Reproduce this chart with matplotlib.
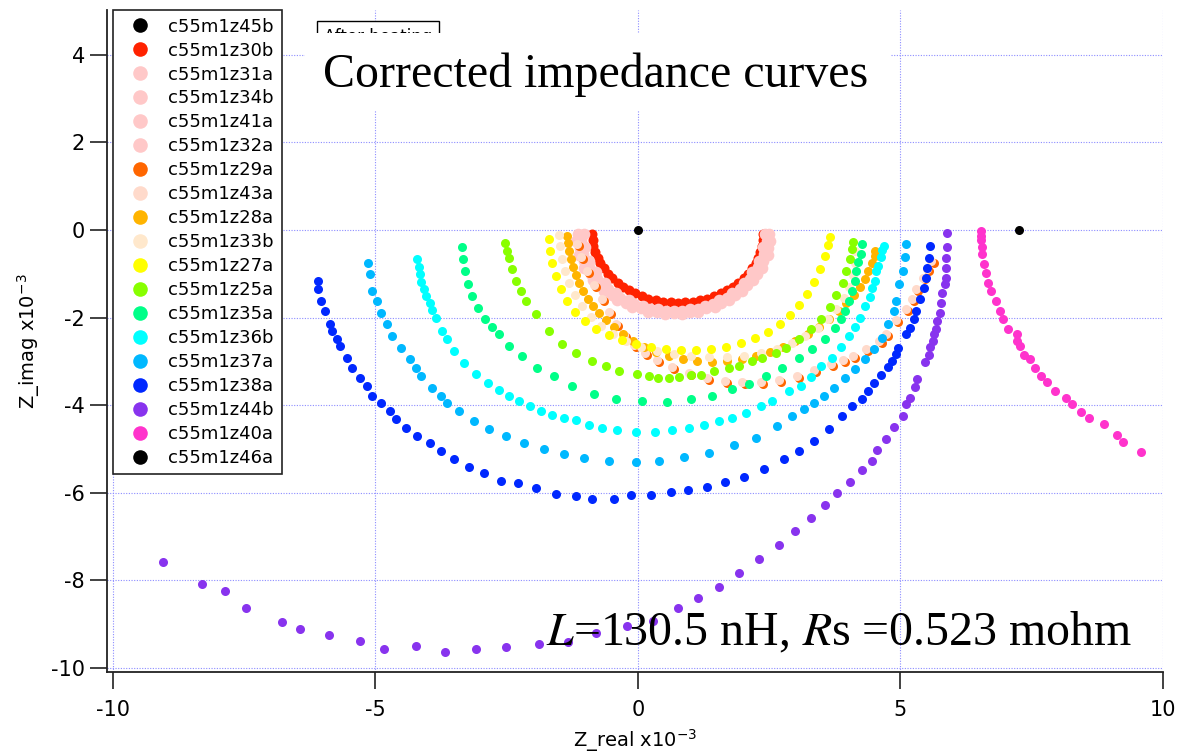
import matplotlib
matplotlib.use("Agg")
import matplotlib.pyplot as plt
from matplotlib.lines import Line2D
from matplotlib.patches import Rectangle

plt.rcParams["axes.unicode_minus"] = False
plt.rcParams["font.family"] = ["DejaVu Sans"]

# ---- impedance curves, Z_real / Z_imag in units of 1e-3 ----
z45b_x = [0.0]
z45b_y = [0.0]

z30b_x = [-0.87, -0.86, -0.85, -0.81, -0.77, -0.72, -0.65, -0.57, -0.49, -0.39, -0.29, -0.18, -0.06,
          0.07, 0.20, 0.34, 0.48, 0.62, 0.76, 0.90, 1.04, 1.18, 1.32, 1.45, 1.58, 1.70, 1.81, 1.91,
          2.01, 2.09, 2.17, 2.24, 2.29, 2.33, 2.37, 2.38, 2.39]
z30b_y = [-0.10, -0.24, -0.37, -0.50, -0.63, -0.76, -0.88, -1.00, -1.10, -1.20, -1.30, -1.38, -1.45,
          -1.51, -1.57, -1.61, -1.64, -1.65, -1.66, -1.65, -1.64, -1.61, -1.57, -1.51, -1.45, -1.38,
          -1.30, -1.20, -1.10, -1.00, -0.88, -0.76, -0.63, -0.50, -0.37, -0.24, -0.10]

z31a_x = [-1.03, -1.00, -0.93, -0.80, -0.63, -0.42, -0.17, 0.10, 0.39, 0.69, 0.99, 1.28, 1.55, 1.80,
          2.01, 2.18, 2.31, 2.38, 2.41]
z31a_y = [-0.10, -0.40, -0.70, -0.97, -1.22, -1.43, -1.61, -1.74, -1.81, -1.84, -1.81, -1.74, -1.61,
          -1.43, -1.22, -0.97, -0.70, -0.40, -0.10]

z34b_x = [-1.09, -1.04, -0.93, -0.78, -0.58, -0.34, -0.07, 0.22, 0.53, 0.84, 1.14, 1.43, 1.70, 1.94,
          2.14, 2.29, 2.40, 2.45]
z34b_y = [-0.25, -0.56, -0.85, -1.12, -1.35, -1.55, -1.70, -1.81, -1.86, -1.86, -1.81, -1.70, -1.55,
          -1.35, -1.12, -0.85, -0.56, -0.25]

z41a_x = [-1.14, -1.11, -1.03, -0.90, -0.71, -0.49, -0.23, 0.06, 0.36, 0.68, 1.00, 1.30, 1.59, 1.85,
          2.07, 2.26, 2.39, 2.47, 2.50]
z41a_y = [-0.10, -0.41, -0.72, -1.00, -1.26, -1.48, -1.66, -1.79, -1.87, -1.90, -1.87, -1.79, -1.66,
          -1.48, -1.26, -1.00, -0.72, -0.41, -0.10]

z32a_x = [-1.18, -1.13, -1.02, -0.85, -0.65, -0.40, -0.12, 0.19, 0.51, 0.83, 1.15, 1.46, 1.74, 1.99,
          2.19, 2.36, 2.47, 2.52]
z32a_y = [-0.26, -0.57, -0.87, -1.15, -1.39, -1.60, -1.76, -1.87, -1.92, -1.92, -1.87, -1.76, -1.60,
          -1.39, -1.15, -0.87, -0.57, -0.26]

z29a_x = [-1.12, -1.05, -0.93, -0.80, -0.65, -0.51, -0.38, -0.23, -0.04, 0.17, 0.40, 0.68, 1.01, 1.35,
          1.69, 2.03, 2.38, 2.72, 3.06, 3.40, 3.71, 3.94, 4.14, 4.39, 4.64, 4.77, 4.96, 5.15, 5.25,
          5.34, 5.46, 5.55, 5.63]
z29a_y = [-0.36, -0.66, -0.98, -1.30, -1.62, -1.92, -2.19, -2.44, -2.67, -2.85, -3.01, -3.17, -3.31,
          -3.42, -3.49, -3.52, -3.52, -3.47, -3.38, -3.24, -3.10, -3.01, -2.92, -2.76, -2.58, -2.42,
          -2.10, -1.85, -1.62, -1.39, -1.13, -0.93, -0.75]

z43a_x = [-1.16, -1.09, -0.97, -0.84, -0.69, -0.55, -0.42, -0.27, -0.08, 0.13, 0.36, 0.64, 0.97, 1.31,
          1.65, 1.99, 2.34, 2.68, 3.02, 3.36, 3.67, 3.90, 4.10, 4.35, 4.60, 4.73, 4.92, 5.11, 5.21,
          5.30, 5.42, 5.51, 5.59]
z43a_y = [-0.32, -0.62, -0.94, -1.26, -1.58, -1.88, -2.15, -2.40, -2.63, -2.81, -2.97, -3.13, -3.27,
          -3.38, -3.45, -3.48, -3.48, -3.43, -3.34, -3.20, -3.06, -2.97, -2.88, -2.72, -2.54, -2.38,
          -2.06, -1.81, -1.58, -1.35, -1.09, -0.89, -0.71]

z28a_x = [-1.35, -1.33, -1.31, -1.27, -1.24, -1.18, -1.12, -1.05, -0.95, -0.86, -0.74, -0.61, -0.46,
          -0.29, -0.10, 0.11, 0.34, 0.59, 0.86, 1.12, 1.41, 1.69, 1.98, 2.24, 2.51, 2.76, 3.00, 3.23,
          3.44, 3.63, 3.82, 3.97, 4.11, 4.22, 4.32, 4.39, 4.45, 4.51, 4.52]
z28a_y = [-0.13, -0.29, -0.47, -0.66, -0.84, -1.02, -1.20, -1.39, -1.57, -1.73, -1.89, -2.05, -2.21,
          -2.37, -2.53, -2.67, -2.78, -2.87, -2.94, -2.99, -3.01, -2.99, -2.94, -2.87, -2.78, -2.67,
          -2.53, -2.37, -2.21, -2.03, -1.85, -1.66, -1.48, -1.30, -1.11, -0.93, -0.75, -0.59, -0.47]

z33b_x = [-1.50, -1.48, -1.44, -1.39, -1.31, -1.20, -1.06, -0.89, -0.70, -0.48, -0.23, 0.06, 0.36,
          0.68, 1.01, 1.35, 1.69, 2.02, 2.34, 2.64, 2.93, 3.19, 3.42, 3.61, 3.78, 3.92, 4.01, 4.09,
          4.13, 4.14]
z33b_y = [-0.11, -0.36, -0.66, -0.93, -1.20, -1.48, -1.73, -1.98, -2.19, -2.37, -2.53, -2.67, -2.76,
          -2.83, -2.88, -2.90, -2.90, -2.88, -2.81, -2.72, -2.58, -2.42, -2.24, -2.03, -1.80, -1.55,
          -1.30, -1.02, -0.75, -0.47]

z27a_x = [-1.69, -1.67, -1.63, -1.56, -1.46, -1.35, -1.20, -1.01, -0.80, -0.55, -0.30, -0.04, 0.25,
          0.53, 0.82, 1.10, 1.39, 1.67, 1.96, 2.22, 2.47, 2.70, 2.89, 3.06, 3.21, 3.35, 3.46, 3.56,
          3.61, 3.65]
z27a_y = [-0.20, -0.47, -0.75, -1.04, -1.34, -1.62, -1.87, -2.08, -2.26, -2.39, -2.51, -2.60, -2.67,
          -2.71, -2.74, -2.74, -2.71, -2.67, -2.58, -2.46, -2.33, -2.14, -1.94, -1.71, -1.46, -1.19,
          -0.89, -0.59, -0.34, -0.15]

z25a_x = [-2.53, -2.49, -2.45, -2.40, -2.32, -2.22, -2.13, -1.94, -1.69, -1.44, -1.18, -0.87, -0.61,
          -0.36, -0.02, 0.21, 0.38, 0.59, 0.78, 1.01, 1.20, 1.44, 1.73, 1.92, 2.17, 2.36, 2.62, 2.81,
          3.06, 3.29, 3.48, 3.65, 3.78, 3.90, 3.97, 4.03, 4.07, 4.09]
z25a_y = [-0.29, -0.47, -0.63, -0.89, -1.16, -1.39, -1.62, -1.92, -2.31, -2.60, -2.81, -2.99, -3.10,
          -3.22, -3.29, -3.33, -3.38, -3.38, -3.36, -3.31, -3.31, -3.22, -3.15, -3.11, -2.99, -2.92,
          -2.81, -2.69, -2.49, -2.26, -2.03, -1.76, -1.48, -1.21, -0.93, -0.66, -0.43, -0.27]

z35a_x = [-3.35, -3.33, -3.29, -3.23, -3.16, -3.04, -2.91, -2.78, -2.64, -2.45, -2.21, -1.92, -1.60,
          -1.25, -0.84, -0.42, 0.08, 0.55, 1.01, 1.41, 1.79, 2.11, 2.43, 2.74, 3.06, 3.31, 3.57, 3.76,
          3.86, 3.95, 4.01, 4.07, 4.13, 4.16, 4.20, 4.24, 4.26]
z35a_y = [-0.40, -0.66, -0.93, -1.23, -1.50, -1.78, -2.03, -2.21, -2.37, -2.65, -2.88, -3.15, -3.33,
          -3.56, -3.74, -3.86, -3.90, -3.93, -3.86, -3.79, -3.63, -3.52, -3.34, -3.15, -2.92, -2.72,
          -2.49, -2.24, -2.03, -1.85, -1.62, -1.39, -1.16, -0.93, -0.73, -0.54, -0.31]

z36b_x = [-4.20, -4.18, -4.16, -4.13, -4.07, -4.03, -3.97, -3.92, -3.84, -3.73, -3.63, -3.50, -3.31,
          -3.08, -2.85, -2.64, -2.45, -2.26, -2.05, -1.84, -1.63, -1.41, -1.18, -0.93, -0.68, -0.40,
          -0.04, 0.32, 0.65, 0.97, 1.25, 1.54, 1.79, 2.05, 2.34, 2.55, 2.87, 3.10, 3.29, 3.48, 3.69,
          3.86, 4.01, 4.13, 4.22, 4.33, 4.41, 4.45, 4.51, 4.54, 4.58, 4.62, 4.64, 4.68]
z36b_y = [-0.66, -0.84, -1.00, -1.18, -1.34, -1.50, -1.66, -1.82, -2.00, -2.30, -2.49, -2.76, -3.03,
          -3.28, -3.49, -3.65, -3.79, -3.90, -4.01, -4.13, -4.22, -4.29, -4.33, -4.45, -4.52, -4.57,
          -4.61, -4.61, -4.57, -4.52, -4.45, -4.36, -4.29, -4.18, -4.02, -3.90, -3.68, -3.56, -3.36,
          -3.11, -2.92, -2.67, -2.42, -2.21, -2.00, -1.73, -1.53, -1.32, -1.16, -0.93, -0.82, -0.61,
          -0.45, -0.36]

z37a_x = [-5.15, -5.11, -5.06, -4.98, -4.89, -4.79, -4.68, -4.51, -4.35, -4.22, -4.13, -3.92, -3.75,
          -3.63, -3.40, -3.12, -2.83, -2.51, -2.17, -1.79, -1.41, -1.03, -0.55, -0.04, 0.40, 0.87,
          1.35, 1.83, 2.24, 2.64, 2.93, 3.16, 3.35, 3.54, 3.73, 3.95, 4.14, 4.33, 4.49, 4.64, 4.77,
          4.87, 4.92, 4.98, 5.04, 5.08, 5.11]
z37a_y = [-0.75, -1.00, -1.39, -1.62, -1.89, -2.14, -2.42, -2.69, -2.95, -3.16, -3.33, -3.61, -3.79,
          -3.95, -4.14, -4.36, -4.55, -4.71, -4.87, -5.01, -5.12, -5.21, -5.28, -5.30, -5.28, -5.19,
          -5.08, -4.92, -4.76, -4.48, -4.25, -4.09, -3.95, -3.79, -3.61, -3.38, -3.17, -2.94, -2.72,
          -2.46, -2.14, -1.85, -1.62, -1.23, -0.93, -0.61, -0.31]

z38a_x = [-6.10, -6.10, -6.03, -5.97, -5.87, -5.82, -5.74, -5.68, -5.55, -5.44, -5.30, -5.17, -5.06,
          -4.89, -4.73, -4.60, -4.41, -4.20, -3.97, -3.75, -3.50, -3.21, -2.93, -2.60, -2.28, -1.94,
          -1.56, -1.18, -0.87, -0.46, -0.13, 0.25, 0.63, 0.95, 1.31, 1.65, 2.02, 2.40, 2.78, 3.06,
          3.35, 3.63, 3.88, 4.07, 4.26, 4.39, 4.49, 4.62, 4.77, 4.83, 4.92, 4.96, 5.10, 5.19, 5.25,
          5.30, 5.38, 5.44, 5.48, 5.51, 5.55, 5.57]
z38a_y = [-1.16, -1.34, -1.62, -1.85, -2.14, -2.30, -2.49, -2.65, -2.92, -3.15, -3.38, -3.56, -3.79,
          -3.95, -4.14, -4.32, -4.52, -4.71, -4.87, -5.05, -5.23, -5.42, -5.55, -5.74, -5.78, -5.89,
          -6.03, -6.08, -6.13, -6.13, -6.06, -6.06, -5.99, -5.94, -5.87, -5.76, -5.64, -5.46, -5.23,
          -5.05, -4.82, -4.55, -4.25, -4.02, -3.86, -3.68, -3.49, -3.31, -3.13, -2.99, -2.83, -2.69,
          -2.37, -2.24, -2.03, -1.85, -1.57, -1.32, -1.09, -0.86, -0.63, -0.36]

z44b_x = [5.89, 5.89, 5.87, 5.87, 5.86, 5.84, 5.80, 5.78, 5.76, 5.70, 5.67, 5.63, 5.61, 5.57, 5.55,
          5.46, 5.32, 5.27, 5.19, 5.11, 5.04, 4.87, 4.73, 4.56, 4.45, 4.26, 4.03, 3.80, 3.56, 3.29,
          3.00, 2.68, 2.30, 1.92, 1.54, 1.14, 0.76, 0.29, -0.21, -0.80, -1.33, -1.88, -2.51, -3.08,
          -3.67, -4.22, -4.83, -5.29, -5.89, -6.44, -6.79, -7.47, -7.87, -8.31, -9.05]
z44b_y = [-0.08, -0.40, -0.63, -0.86, -1.09, -1.23, -1.43, -1.66, -1.89, -2.08, -2.26, -2.37, -2.53,
          -2.67, -2.85, -3.01, -3.40, -3.59, -3.84, -3.98, -4.25, -4.50, -4.78, -5.02, -5.27, -5.48,
          -5.75, -6.00, -6.28, -6.58, -6.88, -7.20, -7.52, -7.84, -8.14, -8.39, -8.64, -8.92, -9.05,
          -9.19, -9.40, -9.44, -9.51, -9.56, -9.63, -9.49, -9.56, -9.38, -9.24, -9.10, -8.94, -8.64,
          -8.25, -8.09, -7.57]

z40a_x = [6.54, 6.54, 6.54, 6.56, 6.56, 6.60, 6.62, 6.67, 6.73, 6.81, 6.90, 6.96, 7.05, 7.21, 7.21,
          7.28, 7.36, 7.47, 7.57, 7.68, 7.79, 7.95, 8.16, 8.27, 8.44, 8.59, 8.88, 9.13, 9.24, 9.58]
z40a_y = [-0.02, -0.13, -0.24, -0.40, -0.54, -0.77, -0.99, -1.21, -1.39, -1.62, -1.85, -2.03, -2.26,
          -2.37, -2.53, -2.65, -2.85, -2.94, -3.15, -3.33, -3.47, -3.68, -3.84, -3.98, -4.16, -4.30,
          -4.44, -4.67, -4.85, -5.07]

z46a_x = [7.26]
z46a_y = [0.0]

x_ticks = [-10, -5, 0, 5, 10]
y_ticks = [-10, -8, -6, -4, -2, 0, 2, 4]

series = [
    ("c55m1z45b", "#000000", z45b_x, z45b_y),
    ("c55m1z30b", "#ff2200", z30b_x, z30b_y),
    ("c55m1z31a", "#ffc8c8", z31a_x, z31a_y),
    ("c55m1z34b", "#ffc8c8", z34b_x, z34b_y),
    ("c55m1z41a", "#ffc8c8", z41a_x, z41a_y),
    ("c55m1z32a", "#ffc8c8", z32a_x, z32a_y),
    ("c55m1z29a", "#ff6600", z29a_x, z29a_y),
    ("c55m1z43a", "#ffdacb", z43a_x, z43a_y),
    ("c55m1z28a", "#ffb400", z28a_x, z28a_y),
    ("c55m1z33b", "#ffe8cc", z33b_x, z33b_y),
    ("c55m1z27a", "#ffff00", z27a_x, z27a_y),
    ("c55m1z25a", "#88ff00", z25a_x, z25a_y),
    ("c55m1z35a", "#00ff88", z35a_x, z35a_y),
    ("c55m1z36b", "#00ffff", z36b_x, z36b_y),
    ("c55m1z37a", "#00b8ff", z37a_x, z37a_y),
    ("c55m1z38a", "#0028ff", z38a_x, z38a_y),
    ("c55m1z44b", "#8833ee", z44b_x, z44b_y),
    ("c55m1z40a", "#ff33cc", z40a_x, z40a_y),
    ("c55m1z46a", "#000000", z46a_x, z46a_y),
]
pink = {"c55m1z31a", "c55m1z34b", "c55m1z41a", "c55m1z32a"}

W, H = 1179, 754
fig = plt.figure(figsize=(W / 100, H / 100), dpi=100)
ax = fig.add_axes([107 / W, 1 - 672 / H, (1163 - 107) / W, (672 - 10) / H])

for i, (label, color, xs, ys) in enumerate(series):
    ms = 8.4 if label in pink else 6.5
    if label == "c55m1z30b":
        ms = 7.2
    ax.plot(xs, ys, ls="none", marker="o", ms=ms, mew=0, color=color, zorder=3 + i * 0.01)

ax.set_xlim(-10.114, 10.0)
ax.set_ylim(-10.09, 5.02)
ax.set_xticks(x_ticks)
ax.set_yticks(y_ticks)
ax.grid(True, color="#8c8cff", lw=0.8, ls=(0, (1, 1.4)))
ax.set_axisbelow(True)
for side in ("top", "right"):
    ax.spines[side].set_visible(False)
for side in ("left", "bottom"):
    ax.spines[side].set_color("#222222")
    ax.spines[side].set_linewidth(1.3)
ax.tick_params(direction="out", length=12, width=1.3, color="#333333", labelsize=15)
ax.tick_params(axis="x", pad=8)
ax.tick_params(axis="y", pad=4)

ax.set_xlabel("Z_real x10$^{-3}$", fontsize=14)
ax.xaxis.set_label_coords(0.5, -0.083)
ax.set_ylabel("Z_imag x10$^{-3}$", fontsize=14)
ax.yaxis.set_label_coords(-0.062, 0.5)

handles = [Line2D([], [], ls="none", marker="o", ms=10.5, mew=0, color=c) for _, c, _, _ in series]
labels = [s[0] for s in series]
leg = ax.legend(handles, labels, loc="upper left", bbox_to_anchor=(113 / W, 1 - 10 / H),
                bbox_transform=fig.transFigure, borderaxespad=0, fontsize=13,
                labelspacing=0.33, borderpad=0.42, handlelength=2.2, handletextpad=0.45,
                fancybox=False, framealpha=1, edgecolor="#222222")
leg.get_frame().set_linewidth(1.2)
leg.set_zorder(10)

# small boxed note, mostly hidden under the title panel
fig.text(324 / W, 1 - 28 / H, "After heating", fontsize=12, ha="left", va="top", zorder=20,
         bbox=dict(boxstyle="square,pad=0.4", facecolor="white", edgecolor="black", lw=1))
fig.add_artist(Rectangle((305 / W, 1 - 110 / H), (890 - 305) / W, (110 - 33) / H,
                         transform=fig.transFigure, facecolor="white", edgecolor="none", zorder=21))
fig.text(323 / W, 1 - 87 / H, "Corrected impedance curves", fontsize=34.5,
         family="Liberation Serif", ha="left", va="baseline", zorder=22)

fig.text(546 / W, 1 - 645 / H, "$L$=130.5 nH, $R$s =0.523 mohm", fontsize=34.5,
         family="Liberation Serif", math_fontfamily="stix", ha="left", va="baseline", zorder=22)

fig.savefig("out.png", dpi=100)
